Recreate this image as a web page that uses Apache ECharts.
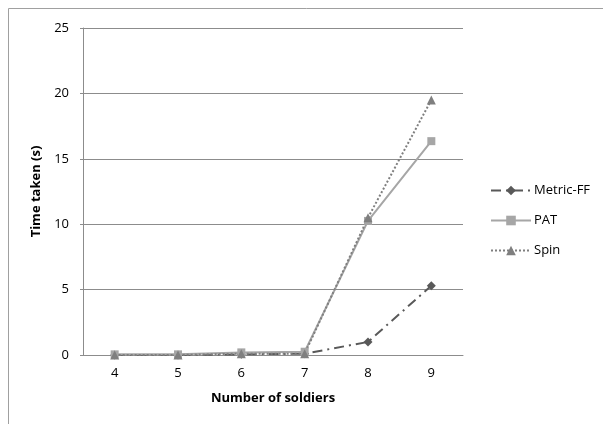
<!DOCTYPE html>
<html><head><meta charset="utf-8">
<script src="https://cdn.jsdelivr.net/npm/echarts@6/dist/echarts.min.js"></script>
<style>html,body{margin:0;padding:0;background:#fff}#c{width:603px;height:424px}</style>
</head><body><div id="c"></div>
<script>
const categories = ['4','5','6','7','8','9'];
const metricFF = [0, 0, 0.05, 0.1, 1.0, 5.3];
const pat = [0.05, 0.05, 0.2, 0.25, 10.25, 16.35];
const spin = [0, 0, 0.1, 0.1, 10.5, 19.5];
const yTicks = [0, 5, 10, 15, 20, 25];

const font = '"Open Sans", "Liberation Sans", sans-serif';
const chart = echarts.init(document.getElementById('c'));
chart.setOption({
  animation: false,
  textStyle: {fontFamily: font},
  graphic: [{type:'rect', shape:{x:8.5,y:8.5,width:620,height:440}, style:{fill:'none', stroke:'#a0a0a0', lineWidth:1}, silent:true}],
  grid: {left: 83, right: 140, top: 28, bottom: 69},
  legend: {
    orient: 'vertical', left: 485, top: 179, itemWidth: 40, itemHeight: 12, itemGap: 17,
    textStyle: {fontFamily: font, fontSize: 13, color: '#000', padding: [0,0,0,-2]},
    data: ['Metric-FF','PAT','Spin']
  },
  xAxis: {
    type: 'category', data: categories, boundaryGap: true,
    name: 'Number of soldiers', nameLocation: 'middle', nameGap: 37,
    nameTextStyle: {fontFamily: font, fontWeight: 'bold', fontSize: 13, color: '#000'},
    axisLine: {lineStyle: {color: '#8c8c8c'}},
    axisTick: {show: false},
    axisLabel: {fontFamily: font, fontSize: 13, color: '#000', margin: 12}
  },
  yAxis: {
    type: 'value', min: yTicks[0], max: yTicks[yTicks.length-1], interval: 5,
    name: 'Time taken (s)', nameLocation: 'middle', nameGap: 35,
    nameTextStyle: {fontFamily: font, fontWeight: 'bold', fontSize: 13, color: '#000'},
    axisLine: {show: true, lineStyle: {color: '#8c8c8c'}},
    axisTick: {show: true, length: 3, lineStyle: {color: '#8c8c8c'}},
    axisLabel: {fontFamily: font, fontSize: 13, color: '#000', margin: 14},
    splitLine: {lineStyle: {color: '#8c8c8c', width: 1}}
  },
  series: [
    {name: 'Metric-FF', type: 'line', data: metricFF, symbol: 'diamond', symbolSize: 9,
     itemStyle: {color: '#595959'}, lineStyle: {color: '#595959', width: 2, type: [10,5,2,5]}},
    {name: 'PAT', type: 'line', data: pat, symbol: 'rect', symbolSize: 8,
     itemStyle: {color: '#a6a6a6'}, lineStyle: {color: '#a6a6a6', width: 2, type: 'solid'}},
    {name: 'Spin', type: 'line', data: spin, symbol: 'triangle', symbolSize: 9,
     itemStyle: {color: '#7f7f7f'}, lineStyle: {color: '#7f7f7f', width: 2, type: [2,2]}}
  ]
});
</script></body></html>
